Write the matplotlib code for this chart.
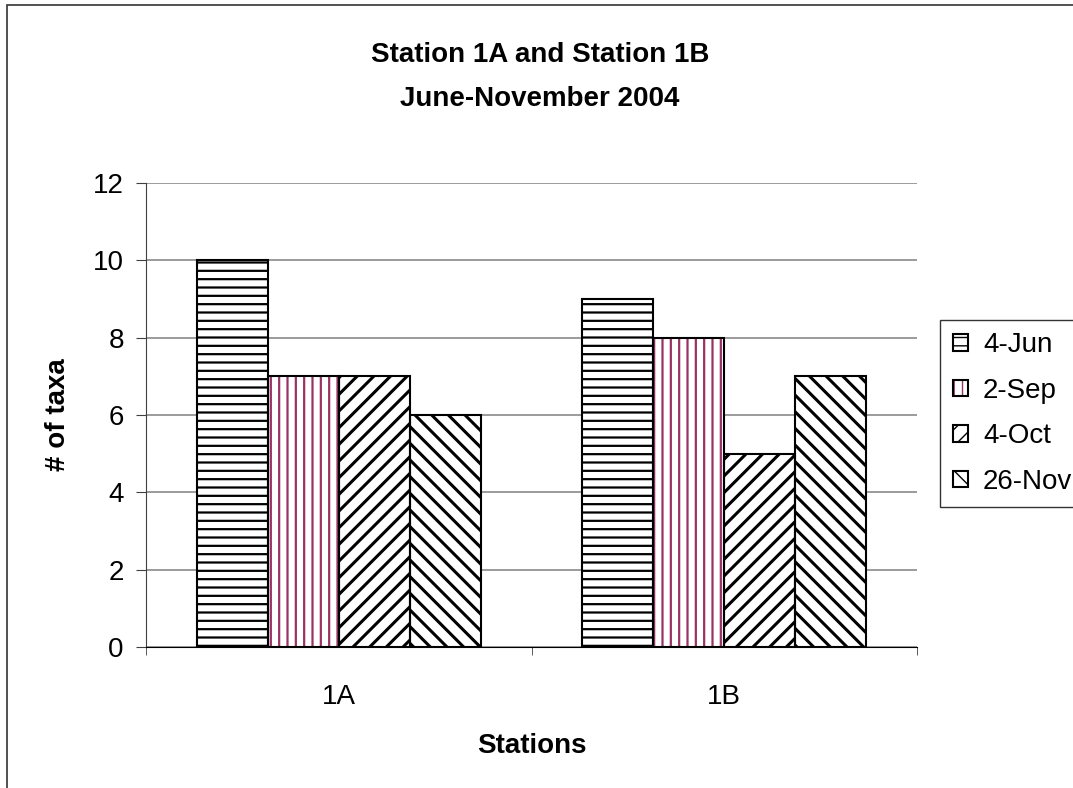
import matplotlib.pyplot as plt
from matplotlib.patches import Rectangle
from matplotlib.legend_handler import HandlerTuple
import numpy as np

plt.rcParams['font.family'] = ['Liberation Sans', 'DejaVu Sans']

# number of taxa per station and sampling date
stations = ['1A', '1B']
dates = ['4-Jun', '2-Sep', '4-Oct', '26-Nov']
taxa = {
    '4-Jun': [10, 9],
    '2-Sep': [7, 8],
    '4-Oct': [7, 5],
    '26-Nov': [6, 7],
}
y_ticks = [0, 2, 4, 6, 8, 10, 12]

# hatch pattern, hatch colour and hatch line width for each date
hatches = ['--', '||', '//', '\\\\']
hatch_colors = ['black', '#993366', 'black', 'black']
hatch_widths = [1.6, 1.6, 2.2, 2.2]

fig = plt.figure(figsize=(10.73, 7.88), dpi=100)
ax = fig.add_axes([146 / 1073, 1 - 647 / 788, (917 - 146) / 1073, (647 - 183) / 788])

x = np.arange(len(stations))
width = 0.184
offsets = (np.arange(len(dates)) - 1.5) * width

handles = []
for i, d in enumerate(dates):
    with plt.rc_context({'hatch.linewidth': hatch_widths[i]}):
        fill = ax.bar(x + offsets[i], taxa[d], width, color='white',
                      edgecolor=hatch_colors[i], hatch=hatches[i], linewidth=0, zorder=3)
    edge = ax.bar(x + offsets[i], taxa[d], width, fill=False,
                  edgecolor='black', linewidth=1.5, zorder=4)
    handles.append((fill[0], edge[0]))

ax.set_xlim(-0.5, 1.5)
ax.set_ylim(0, 12)
ax.set_yticks(y_ticks)
ax.set_xticks(x)
ax.set_xticklabels(stations)
ax.set_xticks([-0.5, 0.5, 1.5], minor=True)

ax.grid(axis='y', color='#808080', linewidth=1.1, zorder=0)
ax.set_axisbelow(True)
for side in ['top', 'right']:
    ax.spines[side].set_visible(False)
ax.spines['left'].set_color('#404040')
ax.spines['bottom'].set_color('black')

ax.tick_params(axis='y', labelsize=20, length=7, pad=9, color='#404040')
ax.tick_params(axis='x', which='major', labelsize=20, length=0, pad=27)
ax.tick_params(axis='x', which='minor', length=6, color='#404040')

ax.set_ylabel('# of taxa', fontsize=20, fontweight='bold', labelpad=16)
ax.set_xlabel('Stations', fontsize=20, fontweight='bold', labelpad=16)

fig.text(540 / 1073, 1 - 77 / 788, 'Station 1A and Station 1B\nJune-November 2004',
         ha='center', va='center', fontsize=20, fontweight='bold', linespacing=1.9)

leg = ax.legend(handles, dates, handler_map={tuple: HandlerTuple(ndivide=1, pad=0)},
                loc='upper left', bbox_to_anchor=(940 / 1073, 1 - 320 / 788),
                bbox_transform=fig.transFigure, fontsize=20, frameon=True,
                fancybox=False, edgecolor='black', borderaxespad=0,
                handlelength=0.55, handleheight=0.55, handletextpad=0.55,
                labelspacing=0.7, borderpad=0.45)
leg.get_frame().set_linewidth(1.0)

# outer chart border
fig.patches.append(Rectangle((7 / 1073, -0.05), 1.1, 1 - 5 / 788 + 0.05,
                             transform=fig.transFigure, fill=False,
                             edgecolor='#333333', linewidth=1.2))

fig.savefig('out.png', dpi=100)
